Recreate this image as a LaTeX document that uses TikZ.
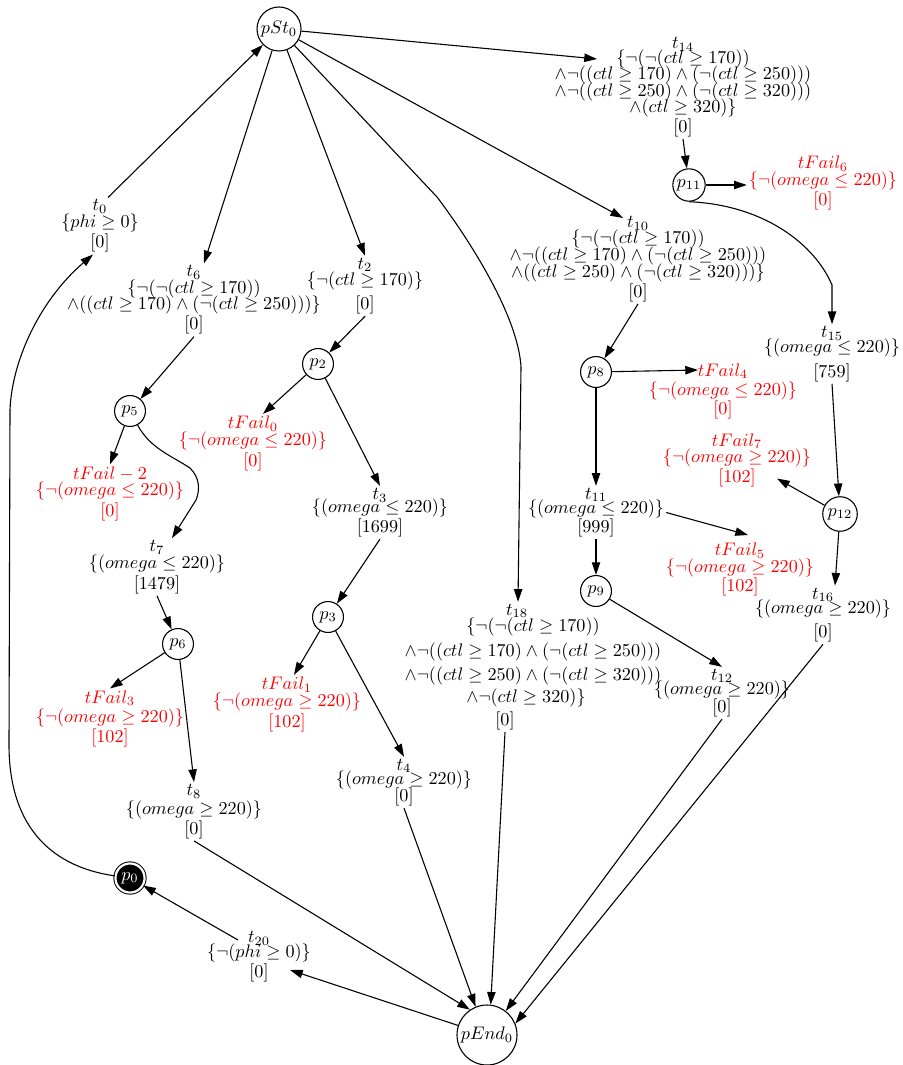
\documentclass[tikz,border=0pt]{standalone}
\usetikzlibrary{arrows.meta,calc}
% tight line spacing for the transition labels
\newcommand\labfont{\fontsize{10}{9.1}\selectfont\lineskiplimit=-\maxdimen\relax}
\tikzset{
  lab/.style={align=center, inner sep=1pt, font=\labfont},
  fail/.style={lab, text=red},
  place/.style={circle, draw, inner sep=0pt, minimum size=17pt, line width=0.6pt},
  arr/.style={line width=0.6pt, -{Triangle[length=7pt,width=4.6pt]}},
}
\begin{document}
\begin{tikzpicture}[x=0.55pt, y=-0.55pt]
\useasboundingbox[fill=white] (0,0) rectangle (902,1065);

% places
\node[place, minimum size=24.2pt] (pSt0) at (279,29) {$pSt_0$};
\node[place, minimum size=17.8pt] (p11) at (689,185) {$p_{11}$};
\node[place] (p2) at (318,364) {$p_2$};
\node[place] (p5) at (130,411) {$p_5$};
\node[place] (p3) at (328,617) {$p_3$};
\node[place] (p6) at (178,644) {$p_6$};
\node[place] (p8) at (596,372) {$p_8$};
\node[place, minimum size=19pt] (p12) at (840,514) {$p_{12}$};
\node[place] (p9) at (596,591) {$p_9$};
\node[circle, draw=black, fill=black, text=white, inner sep=0pt, minimum size=16pt,
      line width=0.55pt, double=white, double distance=1.2pt] (p0) at (130,878) {$p_0$};
\node[place, minimum size=33pt] (pEnd0) at (487,1035) {$pEnd_0$};

% transitions
\node[lab] (t0) at (100,226) {$t_{0}$\\ $\{phi \geq 0\}$\\[2.1pt] $[0]$};
\node[lab] (t6) at (194,300) {$t_{6}$\\ $\{\neg(\neg(ctl \geq 170))$\\ $\wedge((ctl \geq 170) \wedge (\neg(ctl \geq 250)))\}$\\[2pt] $[0]$};
\node[lab] (t2) at (365,286) {$t_{2}$\\ $\{\neg(ctl \geq 170)\}$\\[4pt] $[0]$};
\node[lab] (t14) at (683,87) {$t_{14}$\\[-1pt] $\{\neg(\neg(ctl \geq 170))$\\ $\wedge\neg((ctl \geq 170) \wedge (\neg(ctl \geq 250)))$\\ $\wedge\neg((ctl \geq 250) \wedge (\neg(ctl \geq 320)))$\\ $\wedge(ctl \geq 320)\}$\\[1.5pt] $[0]$};
\node[lab] (t10) at (638,259) {$t_{10}$\\ $\{\neg(\neg(ctl \geq 170))$\\ $\wedge\neg((ctl \geq 170) \wedge (\neg(ctl \geq 250)))$\\ $\wedge((ctl \geq 250) \wedge (\neg(ctl \geq 320)))\}$\\[2pt] $[0]$};
\node[fail] (tFail6) at (823,183) {$tFail_{6}$\\ $\{\neg(omega \leq 220)\}$\\[2pt] $[0]$};
\node[lab] (t15) at (832,354) {$t_{15}$\\[-1pt] $\{(omega \leq 220)\}$\\[4.5pt] $[759]$};
\node[fail] (tFail0) at (253,443.5) {$tFail_{0}$\\ $\{\neg(omega \leq 220)\}$\\[2.5pt] $[0]$};
\node[fail] (tFailm2) at (110,494) {$tFail-2$\\ $\{\neg(omega \leq 220)\}$\\[2.5pt] $[0]$};
\node[lab] (t3) at (380,512.5) {$t_{3}$\\[-2pt] $\{(omega \leq 220)\}$\\[2pt] $[1699]$};
\node[lab] (t7) at (157,567) {$t_{7}$\\ $\{(omega \leq 220)\}$\\[2.5pt] $[1479]$};
\node[fail] (tFail4) at (723,391.5) {$tFail_{4}$\\[1.6pt] $\{\neg(omega \leq 220)\}$\\[1.6pt] $[0]$};
\node[fail] (tFail7) at (737,460.5) {$tFail_{7}$\\ $\{\neg(omega \geq 220)\}$\\[2.1pt] $[102]$};
\node[lab] (t11) at (596,512.5) {$t_{11}$\\[-1.5pt] $\{(omega \leq 220)\}$\\[1.6pt] $[999]$};
\node[fail] (tFail5) at (740,569.5) {$tFail_{5}$\\ $\{\neg(omega \geq 220)\}$\\[1.6pt] $[102]$};
\node[lab] (t16) at (823,615) {$t_{16}$\\[-1pt] $\{(omega \geq 220)\}$\\[4pt] $[0]$};
\node[lab] (t18) at (533,667) {$t_{18}$\rule{17.6pt}{0pt}\\ $\{\neg(\neg(ctl \geq 170))$\\[4.3pt] $\wedge\neg((ctl \geq 170) \wedge (\neg(ctl \geq 250)))$\\[4.3pt] $\wedge\neg((ctl \geq 250) \wedge (\neg(ctl \geq 320)))$\\[3.3pt] $\wedge\neg(ctl \geq 320)\}$\rule{7.7pt}{0pt}\\[3.3pt] $[0]$\rule{30.8pt}{0pt}};
\node[fail] (tFail1) at (287,704.5) {$tFail_{1}$\\ $\{\neg(omega \geq 220)\}$\\[2.5pt] $[102]$};
\node[fail] (tFail3) at (110,719) {$tFail_{3}$\\[1.5pt] $\{\neg(omega \geq 220)\}$\\[2.1pt] $[102]$};
\node[lab] (t4) at (404,782.5) {$t_{4}$\\[-1pt] $\{(omega \geq 220)\}$\\[0pt] $[0]$};
\node[lab] (t8) at (194,811.5) {$t_{8}$\\[1.5pt] $\{(omega \geq 220)\}$\\[1.6pt] $[0]$};
\node[lab] (t12) at (722,693) {$t_{12}$\\[-1pt] $\{(omega \geq 220)\}$\\[0.5pt] $[0]$};
\node[lab] (t20) at (259,956.5) {$t_{20}$\\[-1pt] $\{\neg(phi \geq 0)\}$\\[2.1pt] $[0]$};

% arcs out of the start place
\draw[arr] ($(t0.north)+(8,0)$) -- (pSt0);
\draw[arr] (pSt0) -- ($(t6.north)+(10,0)$);
\draw[arr] (pSt0) -- (t2.north);
\draw[arr] (pSt0) -- ($(t14)+(-86,-28)$);
\draw[arr] (pSt0) -- ($(t10)+(-15,-41)$);
\draw[arr] (pSt0) -- (437,197) .. controls (468,238) and (518,315) .. (521,367) -- ($(t18.north)+(-15,0)$);

% right branch
\draw[arr] (t14.south) -- (p11);
\draw[arr] (p11) -- (p11 -| tFail6.west);
\draw[arr] (p11.south) .. controls (765,205) and (815,245) .. (832,285) -- (t15.north);
\draw[arr] (t15.south) -- (p12);
\draw[arr] (p12) -- ($(tFail7)+(40,18)$);
\draw[arr] (p12) -- ($(t16.north)+(12,0)$);
\draw[arr] (t16.south) -- (pEnd0.22);

% middle-right branch
\draw[arr] (t10.south) -- (p8);
\draw[arr] (p8) -- ($(tFail4)+(-25,-21.5)$);
\draw[arr] (p8) -- (t11);
\draw[arr] (t11.east) -- ($(tFail5)+(8,-34.5)$);
\draw[arr] (t11) -- (p9);
\draw[arr] (p9) -- (t12.north);
\draw[arr] (t12.south) -- (pEnd0.52);
\draw[arr] ($(t18.south)+(-28,0)$) -- (pEnd0.83);

% left branch
\draw[arr] (t6.south) -- (p5);
\draw[arr] (p5) -- (tFailm2.north);
\draw[arr] (p5) .. controls (150,448) and (170,455) .. (190,468) .. controls (200,478) and (200,490) .. (196,500) -- ($(t7.north)+(15,0)$);
\draw[arr] (t7.south) -- (p6);
\draw[arr] (p6) -- (tFail3.north);
\draw[arr] (p6) -- (t8.north);
\draw[arr] (t8.south) -- (pEnd0.124);

% middle-left branch
\draw[arr] (t2.south) -- (p2);
\draw[arr] (p2) -- ($(tFail0.north)+(10,0)$);
\draw[arr] (p2) -- (t3.north);
\draw[arr] (t3.south) -- (p3);
\draw[arr] (p3) -- ($(tFail1.north)+(7,0)$);
\draw[arr] (p3) -- (t4.north);
\draw[arr] (t4.south) -- (pEnd0.112);

% loop back through p0
\draw[arr] (pEnd0) -- ($(t20)+(31,13.5)$);
\draw[arr] ($(t20)+(-21,-16.5)$) -- (p0);
\draw[arr] (p0) .. controls (45,866) and (9,820) .. (9,745) -- (10,410) .. controls (12,360) and (40,300) .. ($(t0.south)+(-7,0)$);
\end{tikzpicture}
\end{document}
